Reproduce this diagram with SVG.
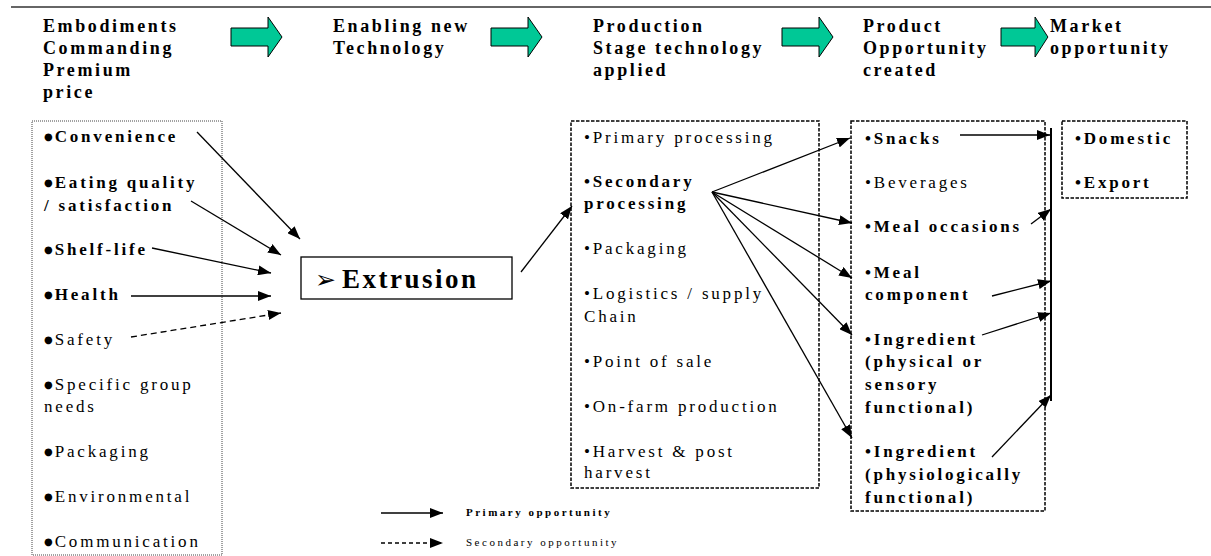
<svg xmlns="http://www.w3.org/2000/svg" width="1211" height="556" viewBox="0 0 1211 556">
  <style>
    text { font-family: "Liberation Serif", "Times New Roman", serif; fill: #000; }
    .hd { font-size: 18px; font-weight: bold; letter-spacing: 2.6px; }
    .it { font-size: 17px; letter-spacing: 2.8px; }
    .b { font-weight: bold; letter-spacing: 2.8px; }
    .big { font-family: "DejaVu Sans", sans-serif; font-size: 10px; font-weight: normal; letter-spacing: 2px; }
    .lg { font-size: 11px; letter-spacing: 2.5px; }
    .frame-dot { fill: none; stroke: #444; stroke-width: 1; stroke-dasharray: 1 1; }
    .frame-dash { fill: none; stroke: #000; stroke-width: 1.5; stroke-dasharray: 3.5 1.5; }
    .conn { stroke: #000; stroke-width: 1.3; fill: none; marker-end: url(#ah); }
    .dash { stroke-dasharray: 6 4; }
    .step { fill: #00C896; stroke: #000; stroke-width: 1; }
  </style>
  <defs>
    <marker id="ah" markerUnits="userSpaceOnUse" markerWidth="14" markerHeight="10" refX="13" refY="5" orient="auto">
      <path d="M0,0 L13,5 L0,10 z" fill="#000"/>
    </marker>
    <path id="step" d="M0,11 L37,11 L37,0 L51,20 L37,40 L37,29 L0,29 z"/>
  </defs>

  <!-- rule across the top -->
  <line x1="11" y1="7" x2="1211" y2="7" stroke="#333" stroke-width="1.6"/>

  <!-- column headings -->
  <g id="headings">
    <text class="hd" x="43" y="32">Embodiments</text>
    <text class="hd" x="43" y="54">Commanding</text>
    <text class="hd" x="43" y="76">Premium</text>
    <text class="hd" x="43" y="98">price</text>
    <text class="hd" x="333" y="32">Enabling new</text>
    <text class="hd" x="333" y="54">Technology</text>
    <text class="hd" x="593" y="32">Production</text>
    <text class="hd" x="593" y="54">Stage technology</text>
    <text class="hd" x="593" y="76">applied</text>
    <text class="hd" x="863" y="32">Product</text>
    <text class="hd" x="863" y="54">Opportunity</text>
    <text class="hd" x="863" y="76">created</text>
    <text class="hd" x="1050" y="32">Market</text>
    <text class="hd" x="1050" y="54">opportunity</text>
  </g>

  <!-- green step arrows between headings -->
  <g id="steps">
    <use href="#step" class="step" transform="translate(231,17)"/>
    <use href="#step" class="step" transform="translate(491,17)"/>
    <use href="#step" class="step" transform="translate(782,17)"/>
    <use href="#step" class="step" transform="translate(1001,17) scale(0.92,1)"/>
  </g>

  <!-- embodiments list -->
  <g id="embodiments">
    <rect class="frame-dot" x="32" y="121" width="190" height="434"/>
    <text class="it b" x="44" y="142"><tspan class="big" dy="-2">●</tspan><tspan dy="2">Convenience</tspan></text>
    <text class="it b" x="44" y="188"><tspan class="big" dy="-2">●</tspan><tspan dy="2">Eating quality</tspan></text>
    <text class="it b" x="44" y="211">/ satisfaction</text>
    <text class="it b" x="44" y="255"><tspan class="big" dy="-2">●</tspan><tspan dy="2">Shelf-life</tspan></text>
    <text class="it b" x="44" y="300"><tspan class="big" dy="-2">●</tspan><tspan dy="2">Health</tspan></text>
    <text class="it" x="44" y="345"><tspan class="big" dy="-2">●</tspan><tspan dy="2">Safety</tspan></text>
    <text class="it" x="44" y="390"><tspan class="big" dy="-2">●</tspan><tspan dy="2">Specific group</tspan></text>
    <text class="it" x="44" y="412">needs</text>
    <text class="it" x="44" y="457"><tspan class="big" dy="-2">●</tspan><tspan dy="2">Packaging</tspan></text>
    <text class="it" x="44" y="502"><tspan class="big" dy="-2">●</tspan><tspan dy="2">Environmental</tspan></text>
    <text class="it" x="44" y="547"><tspan class="big" dy="-2">●</tspan><tspan dy="2">Communication</tspan></text>
  </g>

  <!-- enabling technology -->
  <g id="extrusion">
    <rect x="301" y="257" width="211" height="42" fill="#fff" stroke="#000" stroke-width="1.3"/>
    <text x="315" y="288" font-family="DejaVu Sans" font-size="25">➢</text>
    <text x="342" y="288" font-size="27" font-weight="bold" letter-spacing="2.5">Extrusion</text>
  </g>

  <!-- production stage technology -->
  <g id="production">
    <rect class="frame-dash" x="571" y="121" width="248" height="367"/>
    <text class="it" x="584" y="143">•Primary processing</text>
    <text class="it b" x="584" y="187">•Secondary</text>
    <text class="it b" x="584" y="209">processing</text>
    <text class="it" x="584" y="254">•Packaging</text>
    <text class="it" x="584" y="299">•Logistics / supply</text>
    <text class="it" x="584" y="322">Chain</text>
    <text class="it" x="584" y="367">•Point of sale</text>
    <text class="it" x="584" y="412">•On-farm production</text>
    <text class="it" x="584" y="457">•Harvest &amp; post</text>
    <text class="it" x="584" y="478">harvest</text>
  </g>

  <!-- product opportunities -->
  <g id="products">
    <rect class="frame-dash" x="851" y="121" width="194" height="390"/>
    <text class="it b" x="865" y="144">•Snacks</text>
    <text class="it" x="865" y="188">•Beverages</text>
    <text class="it b" x="865" y="232">•Meal occasions</text>
    <text class="it b" x="865" y="278">•Meal</text>
    <text class="it b" x="865" y="300">component</text>
    <text class="it b" x="865" y="345">•Ingredient</text>
    <text class="it b" x="865" y="367">(physical or</text>
    <text class="it b" x="865" y="390">sensory</text>
    <text class="it b" x="865" y="413">functional)</text>
    <text class="it b" x="865" y="457">•Ingredient</text>
    <text class="it b" x="865" y="480">(physiologically</text>
    <text class="it b" x="865" y="503">functional)</text>
  </g>

  <!-- market opportunities -->
  <g id="markets">
    <rect class="frame-dash" x="1062" y="121" width="125" height="77"/>
    <text class="it b" x="1075" y="144">•Domestic</text>
    <text class="it b" x="1075" y="188">•Export</text>
  </g>

  <!-- connectors -->
  <g id="connectors">
    <line class="conn" x1="197" y1="132" x2="300" y2="239"/>
    <line class="conn" x1="191" y1="201" x2="281" y2="255"/>
    <line class="conn" x1="152" y1="248" x2="271" y2="273"/>
    <line class="conn" x1="131" y1="296" x2="271" y2="296"/>
    <line class="conn dash" x1="131" y1="337" x2="281" y2="313"/>
    <line class="conn" x1="521" y1="272" x2="572" y2="206"/>
    <line class="conn" x1="712" y1="192" x2="850" y2="138"/>
    <line class="conn" x1="712" y1="192" x2="852" y2="223"/>
    <line class="conn" x1="712" y1="192" x2="852" y2="278"/>
    <line class="conn" x1="712" y1="192" x2="852" y2="335"/>
    <line class="conn" x1="712" y1="192" x2="852" y2="438"/>
    <line x1="1051" y1="128" x2="1051" y2="401" stroke="#000" stroke-width="2"/>
    <line class="conn" x1="960" y1="135" x2="1050" y2="135"/>
    <line class="conn" x1="1031" y1="224" x2="1051" y2="209"/>
    <line class="conn" x1="992" y1="296" x2="1051" y2="281"/>
    <line class="conn" x1="982" y1="335" x2="1051" y2="313"/>
    <line class="conn" x1="992" y1="457" x2="1051" y2="395"/>
  </g>

  <!-- legend -->
  <g id="legend">
    <line class="conn" x1="381" y1="513" x2="443" y2="513"/>
    <text class="lg" x="466" y="516" font-weight="bold">Primary opportunity</text>
    <line class="conn dash" x1="381" y1="543" x2="443" y2="543" style="stroke-dasharray:4 3"/>
    <text class="lg" x="466" y="546" letter-spacing="2.3">Secondary opportunity</text>
  </g>
</svg>
